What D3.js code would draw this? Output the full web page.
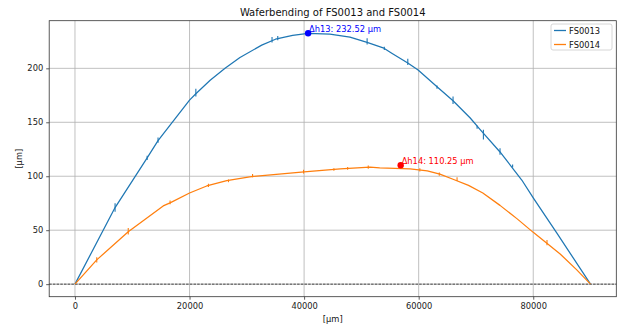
<!DOCTYPE html>
<html><head><meta charset="utf-8">
<script src="https://cdn.jsdelivr.net/npm/d3@7"></script>
<style>body{margin:0;background:#fff}svg{display:block;font-family:"DejaVu Sans",sans-serif}</style>
</head><body><svg id="c" width="617" height="326"></svg>
<script>
const title = "Waferbending of FS0013 and FS0014";
const seriesNames = ["FS0013", "FS0014"];
const xTicks = [0, 20000, 40000, 60000, 80000];
const yTicks = [0, 50, 100, 150, 200];

const x13 = [0, 7000, 12600, 14500, 20000, 21100, 23600, 26200, 28800, 32600, 35000, 38000, 40700, 44500, 48000, 51000, 53800, 55300, 58100, 59900, 63200, 66000, 69000, 70700, 74200, 78000, 80000, 84100, 90000];
const y13 = [0, 71, 117, 133, 170.5, 176.5, 189, 200, 210, 221.5, 227, 230.5, 232.5, 231.8, 229, 224, 219, 214, 205, 198.5, 183, 170, 154, 143.5, 122.5, 96.5, 80, 47.5, 0];

const x14 = [0, 3800, 9300, 15400, 16600, 20000, 23000, 26500, 30500, 40000, 46300, 51500, 53200, 58500, 61500, 63700, 66000, 68700, 71200, 74200, 77200, 80000, 84700, 87600, 90000];
const y14 = [0, 22.5, 48.5, 72.5, 75.3, 84.5, 91, 96, 99.5, 104, 106.8, 108.5, 107.8, 106.8, 105, 102, 97.2, 91.5, 84.5, 73, 60.5, 48, 28, 13.2, 0];

// small vertical glitches in the measurements: x, low, high
const spikes13X = [7000, 12600, 14500, 21100, 34400, 35400, 51000, 54000, 58100, 63200, 66000, 70200, 71300, 74200, 76400];
const spikes13Lo = [67, 115, 131, 174, 224, 226, 222, 217, 203, 181, 167, 144, 134, 120, 108];
const spikes13Hi = [75, 119, 136, 181, 229, 230, 228, 220, 209, 184, 174, 147, 143, 126, 111];
const spikes14X = [3800, 9300, 16600, 23300, 26800, 31000, 39900, 45200, 47600, 51200, 60200, 63600, 66700, 82400];
const spikes14Lo = [20, 46, 74, 90, 94.5, 99, 102.5, 105, 106, 107, 104.5, 100.5, 95.5, 36];
const spikes14Hi = [25, 52, 77.5, 93, 97, 102, 106, 107.5, 108.5, 110, 107.5, 103.5, 99, 41];

const maxX = [40700, 56860];
const maxY = [232.52, 110.25];
const maxLabels = ["Δh13: 232.52 µm", "Δh14: 110.25 µm"];
const maxColors = ["#0000ff", "#ff0000"];
const colors = ["#1f77b4", "#ff7f0e"];

const svg = d3.select("#c");
const L = 49.2, R = 616.3, T = 20.7, B = 296.7;
const x = d3.scaleLinear().domain([-4500, 94500]).range([L, R]);
const y = d3.scaleLinear().domain([-11.63, 244.15]).range([B, T]);

svg.append("rect").attr("width", 617).attr("height", 326).attr("fill", "#fff");

// grid
const g = svg.append("g");
g.selectAll(".gx").data(xTicks).join("line")
  .attr("x1", d => x(d)).attr("x2", d => x(d)).attr("y1", T).attr("y2", B)
  .attr("stroke", "#b0b0b0").attr("stroke-width", 0.8);
g.selectAll(".gy").data(yTicks).join("line")
  .attr("y1", d => y(d)).attr("y2", d => y(d)).attr("x1", L).attr("x2", R)
  .attr("stroke", "#b0b0b0").attr("stroke-width", 0.8);

// zero line
svg.append("line").attr("x1", L).attr("x2", R).attr("y1", y(0)).attr("y2", y(0))
  .attr("stroke", "#000").attr("stroke-width", 0.7).attr("stroke-dasharray", "2.5,1.2");

const line = d3.line().x(d => x(d[0])).y(d => y(d[1]));
const data = [[x13, y13, spikes13X, spikes13Lo, spikes13Hi], [x14, y14, spikes14X, spikes14Lo, spikes14Hi]];
data.forEach((s, i) => {
  const pts = s[0].map((v, j) => [v, s[1][j]]);
  svg.append("path").datum(pts).attr("d", line).attr("fill", "none")
    .attr("stroke", colors[i]).attr("stroke-width", 1.25).attr("stroke-linejoin", "round");
  svg.append("g").selectAll("line").data(s[2]).join("line")
    .attr("x1", d => x(d)).attr("x2", d => x(d))
    .attr("y1", (d, j) => y(s[3][j])).attr("y2", (d, j) => y(s[4][j]))
    .attr("stroke", colors[i]).attr("stroke-width", 1.1);
});

// max markers
maxX.forEach((mx, i) => {
  svg.append("circle").attr("cx", x(mx)).attr("cy", y(maxY[i])).attr("r", 3.2).attr("fill", maxColors[i]);
  svg.append("text").attr("x", x(mx) + 1).attr("y", y(maxY[i]) - 1)
    .attr("font-size", 8.3).attr("fill", maxColors[i]).text(maxLabels[i]);
});

// spines
svg.append("rect").attr("x", L).attr("y", T).attr("width", R - L).attr("height", B - T)
  .attr("fill", "none").attr("stroke", "#333").attr("stroke-width", 0.8);

// ticks
svg.append("g").attr("transform", `translate(0,${B})`)
  .call(d3.axisBottom(x).tickValues(xTicks).tickFormat(d3.format("d")).tickSize(3).tickPadding(3))
  .call(a => a.select(".domain").remove())
  .call(a => a.selectAll("line").attr("stroke", "#333").attr("stroke-width", 0.8))
  .call(a => a.selectAll("text").attr("font-size", 8.3).attr("fill", "#222").attr("font-family", "DejaVu Sans"));
svg.append("g").attr("transform", `translate(${L},0)`)
  .call(d3.axisLeft(y).tickValues(yTicks).tickFormat(d3.format("d")).tickSize(3).tickPadding(3))
  .call(a => a.select(".domain").remove())
  .call(a => a.selectAll("line").attr("stroke", "#333").attr("stroke-width", 0.8))
  .call(a => a.selectAll("text").attr("font-size", 8.3).attr("fill", "#222").attr("font-family", "DejaVu Sans"));

// labels
svg.append("text").attr("x", (L + R) / 2).attr("y", 16).attr("text-anchor", "middle")
  .attr("font-size", 10).attr("fill", "#111").text(title);
svg.append("text").attr("x", (L + R) / 2).attr("y", 322).attr("text-anchor", "middle")
  .attr("font-size", 8.3).attr("fill", "#111").text("[µm]");
svg.append("text").attr("transform", `translate(22,${(T + B) / 2}) rotate(-90)`).attr("text-anchor", "middle")
  .attr("font-size", 8.3).attr("fill", "#111").text("[µm]");

// legend
const lg = svg.append("g");
lg.append("rect").attr("x", 551).attr("y", 24).attr("width", 61).attr("height", 26).attr("rx", 2)
  .attr("fill", "#fff").attr("fill-opacity", 0.8).attr("stroke", "#ccc").attr("stroke-width", 0.8);
seriesNames.forEach((n, i) => {
  const yy = 30.5 + i * 14;
  lg.append("line").attr("x1", 554).attr("x2", 566).attr("y1", yy).attr("y2", yy)
    .attr("stroke", colors[i]).attr("stroke-width", 1.3);
  lg.append("text").attr("x", 569).attr("y", yy + 3).attr("font-size", 8.3).attr("fill", "#111").text(n);
});
</script></body></html>
